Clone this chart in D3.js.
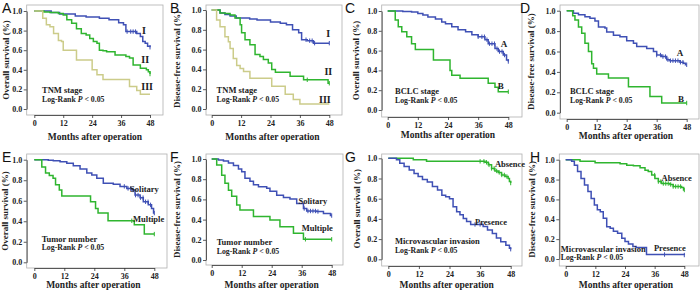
<!DOCTYPE html>
<html>
<head>
<meta charset="utf-8">
<script src="https://cdn.jsdelivr.net/npm/d3@7"></script>
<style>
  body { margin: 0; background: #fff; }
  svg { display: block; }
  .axis text { font-family: "Liberation Serif", "Times New Roman", serif; font-weight: bold; font-size: 8px; fill: #222; }
  .axis path, .axis line { stroke: #333; stroke-width: 0.8; }
  .title { font-family: "Liberation Serif", "Times New Roman", serif; font-weight: bold; fill: #222; }
  .letter { font-family: "Liberation Sans", Arial, sans-serif; font-size: 14px; fill: #111; }
</style>
</head>
<body>
<svg width="700" height="297"></svg>
<script>
// tick values
var monthTicks = [0, 12, 24, 36, 48];
var survivalTicks = [0, 0.2, 0.4, 0.6, 0.8, 1.0];

// step curves: [month, survival from that month on]
var aStage1 = [[0,1],[7,0.985],[10.5,0.97],[17,0.95],[21.5,0.94],[27,0.925],[31,0.91],[35,0.88],[37,0.86],[38,0.79],[42.5,0.77],[44,0.74],[45,0.69],[46,0.67],[47,0.64],[48,0.63]];
var aStage2 = [[0,1],[4,0.99],[6.5,0.985],[10,0.975],[12,0.96],[13.5,0.91],[15.5,0.875],[17.5,0.82],[19.5,0.77],[21.5,0.755],[23,0.72],[24.5,0.69],[26,0.67],[27,0.60],[28.5,0.595],[30,0.585],[33.5,0.55],[38,0.535],[39.5,0.52],[41,0.45],[44,0.415],[46.5,0.40],[47.3,0.38],[48,0.357]];
var aStage3 = [[0,1],[3.5,0.925],[5,0.86],[6.5,0.84],[8,0.77],[10,0.70],[11.3,0.69],[12,0.60],[17.5,0.50],[24,0.40],[26,0.35],[28.5,0.30],[39.5,0.23],[42.5,0.19],[44,0.15],[48,0.15]];

var bStage1 = [[0,1],[3.4,0.97],[5.4,0.955],[7.5,0.94],[10,0.92],[15.5,0.91],[18.5,0.90],[24,0.88],[28,0.865],[30.5,0.85],[33,0.80],[35.5,0.77],[36.7,0.70],[39,0.69],[41.5,0.665],[48,0.665]];
var bStage2 = [[0,1],[3.4,0.97],[5.4,0.965],[7.5,0.95],[9.5,0.92],[11.6,0.85],[12.2,0.77],[13.6,0.70],[15.6,0.65],[17.7,0.55],[19.7,0.53],[21.1,0.50],[23.1,0.465],[24.5,0.40],[26,0.37],[32,0.33],[37.5,0.295],[47.5,0.26],[48,0.26]];
var bStage3 = [[0,1],[2,0.90],[3.4,0.83],[5.4,0.73],[6.8,0.68],[7.5,0.61],[8.8,0.51],[10.2,0.44],[11.6,0.41],[13,0.38],[15.6,0.31],[24.5,0.23],[30,0.15],[33.3,0.095],[36,0.05],[48,0.05]];

var cStageA = [[0,1],[6,0.995],[9.5,0.99],[12,0.975],[14,0.96],[16,0.94],[19,0.92],[21.5,0.89],[23,0.87],[25.5,0.84],[28,0.81],[31,0.79],[33.5,0.76],[36,0.74],[38.7,0.71],[40,0.67],[42.7,0.62],[44,0.59],[46,0.555],[47.3,0.505],[48,0.49]];
var cStageB = [[0,1],[3,0.91],[4.2,0.84],[5.6,0.79],[7.6,0.74],[9.5,0.67],[11,0.61],[18.2,0.505],[24.8,0.40],[25.5,0.35],[28.8,0.32],[40,0.27],[42.7,0.23],[44,0.185],[48,0.185]];

var dStageA = [[0,1],[2.7,0.975],[4.7,0.96],[7.3,0.94],[9.3,0.925],[11.3,0.90],[12.7,0.84],[15.3,0.83],[16,0.79],[18.7,0.76],[21.3,0.745],[24,0.705],[26.7,0.68],[28,0.65],[32,0.63],[34.7,0.60],[36,0.565],[38,0.55],[40,0.52],[41.3,0.51],[45.3,0.495],[46.7,0.485],[47.5,0.47],[48,0.47]];
var dStageB = [[0,1],[2.4,0.95],[3.3,0.91],[4.7,0.84],[6,0.78],[7.3,0.68],[8.7,0.60],[10,0.48],[10.7,0.435],[12,0.38],[16.7,0.34],[24.7,0.255],[33.3,0.16],[38,0.095],[48,0.095]];

var eSolitary = [[0,1],[5.6,0.995],[7.6,0.99],[10.3,0.98],[13,0.965],[15.6,0.94],[18.3,0.91],[21,0.87],[23,0.85],[25,0.82],[27.6,0.77],[31.6,0.76],[34.3,0.74],[37,0.72],[39,0.705],[40.3,0.655],[42.3,0.63],[43.6,0.59],[45.6,0.56],[46.9,0.525],[47.7,0.48],[48,0.48]];
var eMultiple = [[0,1],[3,0.93],[4.5,0.87],[6,0.845],[7.5,0.82],[8.5,0.755],[10,0.705],[11,0.645],[22.5,0.59],[24.5,0.525],[25.5,0.48],[29.5,0.405],[40,0.365],[44,0.275],[48,0.275]];

var fSolitary = [[0,1],[2.7,0.99],[4.7,0.98],[6.7,0.96],[8.7,0.935],[10.7,0.90],[12,0.875],[13.3,0.81],[15.3,0.78],[16.7,0.745],[18.7,0.725],[22,0.71],[23.3,0.68],[26,0.64],[28.7,0.62],[31.3,0.605],[34,0.56],[36.7,0.51],[38,0.485],[42,0.48],[44.7,0.46],[47.5,0.44],[48,0.44]];
var fMultiple = [[0,1],[2,0.94],[4,0.84],[5.3,0.76],[6.7,0.69],[8,0.63],[10,0.545],[11.3,0.495],[16.7,0.43],[23.3,0.395],[27.3,0.33],[32.7,0.265],[36.7,0.205],[48,0.205]];

var gAbsence = [[0,1],[9.8,0.985],[15,0.97],[37.9,0.96],[39.2,0.935],[40.5,0.90],[41.8,0.875],[43.1,0.86],[44.4,0.835],[45.8,0.82],[47,0.80],[47.5,0.77],[48,0.755]];
var gPresence = [[0,1],[3.2,0.985],[4.5,0.95],[6.2,0.92],[8.2,0.885],[10.1,0.85],[11.7,0.82],[13.4,0.79],[15.3,0.765],[17.3,0.72],[19.3,0.685],[21,0.635],[22.5,0.62],[24,0.60],[25.4,0.52],[26.8,0.47],[28.1,0.44],[29.4,0.405],[30.7,0.375],[32.3,0.345],[37.2,0.325],[38.9,0.29],[40.8,0.255],[42.4,0.21],[44.1,0.175],[46.1,0.14],[47.5,0.11],[48,0.10]];

var hAbsence = [[0,1],[5.8,0.985],[11.9,0.97],[22,0.96],[24.7,0.945],[27.4,0.94],[30.1,0.92],[32.1,0.895],[33.4,0.88],[34.8,0.845],[36.1,0.81],[37.5,0.78],[38.8,0.76],[42.2,0.75],[43.5,0.73],[46.9,0.72],[47.7,0.695],[48,0.695]];
var hPresence = [[0,1],[2.4,0.985],[3.5,0.945],[4.8,0.88],[6.2,0.81],[7.6,0.745],[9,0.68],[10.3,0.61],[11.6,0.545],[12.8,0.495],[14,0.475],[15.2,0.41],[16.6,0.325],[18,0.31],[19.3,0.28],[21,0.26],[22.7,0.21],[24,0.175],[25.4,0.15],[27.2,0.125],[28.5,0.115],[32.7,0.045],[48,0.04]];

// censored months (tick marks)
var censorLate = [38.5, 40, 41, 42, 48];
var censorMany = [36, 37.5, 38.5, 39.5, 40.5, 41.5, 42.5, 43.5, 44.5, 45.5, 46.5, 48];
var censorEnd = [48];

var blue = "#3f50b5", green = "#2fb52f", khaki = "#cccc8a";

var panels = [
  {letter: "A", lx: 2, ly: 13, x: [34.3, 150], y: [109, 11], ax: 26.7, ay: 115, right: 163, top: 5,
   ytitle: "Overall survival (%)", ytx: 8.5, xtc: 95, xty: 139.5,
   curves: [[aStage1, blue, censorLate], [aStage2, green, censorEnd], [aStage3, khaki, []]],
   labels: [["I", 45.5, 0.765, "middle", 10], ["II", 46, 0.47, "middle", 10], ["III", 46.8, 0.195, "middle", 10]],
   note: ["TNM stage", 3.2, 0.163]},
  {letter: "B", lx: 170, ly: 13, x: [211.7, 329.3], y: [109, 10], ax: 206, ay: 115, right: 342, top: 5,
   ytitle: "Disease-free survival (%)", ytx: 179.5, xtc: 272.5, xty: 139.5,
   curves: [[bStage1, blue, censorLate], [bStage2, green, [39, 48]], [bStage3, khaki, []]],
   labels: [["I", 47.6, 0.73, "middle", 10], ["II", 47.6, 0.343, "middle", 10], ["III", 46.2, 0.06, "middle", 10]],
   note: ["TNM stage", 2, 0.16]},
  {letter: "C", lx: 345, ly: 13, x: [387.7, 508.3], y: [110, 11], ax: 381.7, ay: 117, right: 522, top: 5,
   ytitle: "Overall survival (%)", ytx: 359, xtc: 448, xty: 138.3,
   curves: [[cStageA, blue, censorMany], [cStageB, green, censorEnd]],
   labels: [["A", 46.3, 0.64, "middle", 9], ["B", 45, 0.21, "middle", 9]],
   note: ["BCLC stage", 2.9, 0.16]},
  {letter: "D", lx: 520, ly: 13, x: [566.7, 686.7], y: [112.7, 10.7], ax: 560, ay: 119, right: 699, top: 5,
   ytitle: "Disease-free survival (%)", ytx: 534, xtc: 626, xty: 138.5,
   curves: [[dStageA, blue, censorMany], [dStageB, green, censorEnd]],
   labels: [["A", 45.3, 0.555, "middle", 9], ["B", 45.7, 0.108, "middle", 9]],
   note: ["BCLC stage", 1.3, 0.183]},
  {letter: "E", lx: 2, ly: 162, x: [34.3, 154.3], y: [262.3, 159.7], ax: 26.7, ay: 268, right: 167, top: 154,
   ytitle: "Overall survival (%)", ytx: 8, xtc: 93.3, xty: 288,
   curves: [[eSolitary, blue, censorMany], [eMultiple, green, [39, 48]]],
   labels: [["Solitary", 38.3, 0.69, "start", 8.5], ["Multiple", 39.5, 0.39, "start", 8.5]],
   note: ["Tumor number", 2.95, 0.198]},
  {letter: "F", lx: 170, ly: 162, x: [211.7, 331.7], y: [260, 159], ax: 206, ay: 265, right: 343, top: 154,
   ytitle: "Disease-free survival (%)", ytx: 180, xtc: 271.7, xty: 288,
   curves: [[fSolitary, blue, [37, 38.5, 39.5, 40.5, 41.5, 42.5, 48]], [fMultiple, green, [37.5, 48]]],
   labels: [["Solitary", 34.7, 0.554, "start", 8.5], ["Multiple", 36, 0.287, "start", 8.5]],
   note: ["Tumor number", 2, 0.148]},
  {letter: "G", lx: 345, ly: 162, x: [388.3, 510.7], y: [259.3, 158.3], ax: 381.7, ay: 266, right: 522, top: 154,
   ytitle: "Overall survival (%)", ytx: 360, xtc: 446.7, xty: 288,
   curves: [[gAbsence, green, censorMany], [gPresence, blue, [34, 36, 48]]],
   labels: [["Absence", 41.8, 0.914, "start", 8.5], ["Presence", 34, 0.34, "start", 8.5]],
   note: ["Microvascular invasion", 2.6, 0.15]},
  {letter: "H", lx: 530, ly: 162, x: [565.7, 684.3], y: [259, 159.7], ax: 559.3, ay: 266, right: 699, top: 154,
   ytitle: "Disease-free survival (%)", ytx: 535, xtc: 626, xty: 288,
   curves: [[hAbsence, green, censorMany], [hPresence, blue, [40, 48]]],
   labels: [["Absence", 38.8, 0.79, "start", 8.5], ["Presence", 35.7, 0.08, "start", 8.5]],
   note: ["Microvascular invasion", -2, 0.075]}
];

var svg = d3.select("svg");

panels.forEach(function(p) {
  var x = d3.scaleLinear().domain([0, 48]).range(p.x);
  var y = d3.scaleLinear().domain([0, 1]).range(p.y);
  var g = svg.append("g");

  // plot frame
  g.append("rect")
    .attr("x", p.ax).attr("y", p.top)
    .attr("width", p.right - p.ax).attr("height", p.ay - p.top)
    .attr("fill", "none").attr("stroke", "#b0b0b0").attr("stroke-width", 0.8);

  g.append("g")
    .attr("class", "axis")
    .attr("transform", "translate(0," + p.ay + ")")
    .call(d3.axisBottom(x).tickValues(monthTicks).tickSize(3).tickSizeOuter(0).tickPadding(2));

  g.append("g")
    .attr("class", "axis")
    .attr("transform", "translate(" + p.ax + ",0)")
    .call(d3.axisLeft(y).tickValues(survivalTicks).tickFormat(d3.format(".1f")).tickSize(3).tickSizeOuter(0).tickPadding(1.5));

  var line = d3.line()
    .curve(d3.curveStepAfter)
    .x(function(d) { return x(d[0]); })
    .y(function(d) { return y(d[1]); });

  p.curves.forEach(function(c) {
    var data = c[0];
    g.append("path")
      .datum(data)
      .attr("d", line)
      .attr("fill", "none")
      .attr("stroke", c[1])
      .attr("stroke-width", 1.5);

    // censor ticks
    var bis = d3.bisector(function(d) { return d[0]; }).right;
    g.selectAll(null)
      .data(c[2])
      .enter().append("line")
      .attr("x1", function(t) { return x(t); })
      .attr("x2", function(t) { return x(t); })
      .attr("y1", function(t) { return y(data[Math.max(0, bis(data, t) - 1)][1]) - 2.2; })
      .attr("y2", function(t) { return y(data[Math.max(0, bis(data, t) - 1)][1]) + 2.2; })
      .attr("stroke", c[1])
      .attr("stroke-width", 1);
  });

  p.labels.forEach(function(l) {
    g.append("text")
      .attr("class", "title")
      .attr("x", x(l[1])).attr("y", y(l[2]))
      .attr("text-anchor", l[3])
      .style("font-size", l[4] + "px")
      .text(l[0]);
  });

  g.append("text")
    .attr("class", "title")
    .attr("x", x(p.note[1])).attr("y", y(p.note[2]))
    .style("font-size", "8.5px")
    .text(p.note[0]);

  var lr = g.append("text")
    .attr("class", "title")
    .attr("x", x(p.note[1])).attr("y", y(p.note[2]) + 8.5)
    .style("font-size", "7.8px");
  lr.append("tspan").text("Log-Rank ");
  lr.append("tspan").style("font-style", "italic").text("P");
  lr.append("tspan").text(" < 0.05");

  g.append("text")
    .attr("class", "title")
    .attr("x", p.xtc).attr("y", p.xty)
    .attr("text-anchor", "middle")
    .style("font-size", "9.5px")
    .text("Months after operation");

  var yc = (p.y[0] + p.y[1]) / 2;
  g.append("text")
    .attr("class", "title")
    .attr("transform", "translate(" + p.ytx + "," + yc + ") rotate(-90)")
    .attr("text-anchor", "middle")
    .style("font-size", "9px")
    .text(p.ytitle);

  g.append("text")
    .attr("class", "letter")
    .attr("x", p.lx).attr("y", p.ly)
    .text(p.letter);
});
</script>
</body>
</html>
